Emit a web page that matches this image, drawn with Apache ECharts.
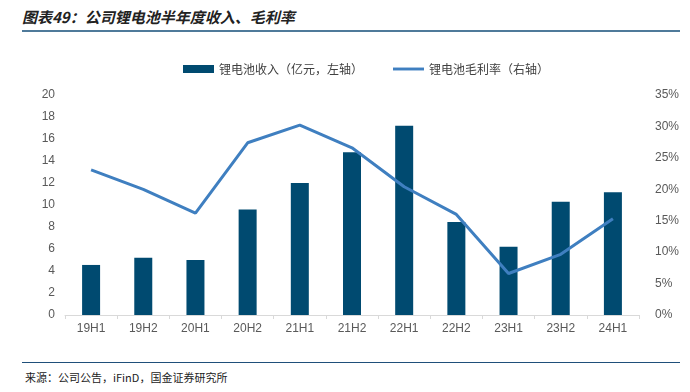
<!DOCTYPE html>
<html>
<head>
<meta charset="utf-8">
<script src="https://cdn.jsdelivr.net/npm/echarts@6/dist/echarts.min.js"></script>
<style>
  html, body { margin: 0; padding: 0; background: #fff; }
  #wrap { position: relative; width: 690px; height: 392px; font-family: "Noto Sans CJK SC", sans-serif; }
  #title { position: absolute; left: 22px; top: 6px; font-size: 15px; font-weight: bold; font-style: italic; color: #222; }
  #topline { position: absolute; left: 22px; right: 10px; top: 30px; height: 2px; background: #4f7a9a; }
  #botline { position: absolute; left: 22px; right: 10px; top: 362px; height: 1px; background: #1f4f7a; }
  #source { position: absolute; left: 25px; top: 369px; font-size: 11px; color: #222; }
  #chart { position: absolute; left: 0; top: 40px; width: 690px; height: 315px; }
</style>
</head>
<body>
<div id="wrap">
  <div id="title">图表49：公司锂电池半年度收入、毛利率</div>
  <div id="topline"></div>
  <div id="chart"></div>
  <div id="botline"></div>
  <div id="source">来源：公司公告，iFinD，国金证券研究所</div>
</div>
<script>
// 半年度
const categories = ['19H1', '19H2', '20H1', '20H2', '21H1', '21H2', '22H1', '22H2', '23H1', '23H2', '24H1'];
// 锂电池收入（亿元）
const revenue = [4.55, 5.2, 5.0, 9.6, 12.0, 14.8, 17.2, 8.45, 6.2, 10.3, 11.15];
// 锂电池毛利率（%）
const grossMargin = [23.1, 20.0, 16.2, 27.4, 30.2, 26.6, 20.4, 16.0, 6.6, 9.65, 15.3];
const leftTicks = { min: 0, max: 20, interval: 2 };
const rightTicks = { min: 0, max: 35, interval: 5 };

const myChart = echarts.init(document.getElementById('chart'));
const labelStyle = { color: '#595959', fontSize: 12, fontFamily: 'Liberation Sans, Arial, sans-serif' };

const options = {
  animation: false,
  legend: {
    top: 18,
    left: 178,
    itemGap: 30,
    itemWidth: 31,
    itemHeight: 8,
    textStyle: { color: '#404040', fontSize: 12, fontFamily: 'Noto Sans CJK SC', padding: [0, 0, 0, 0] },
    data: [
      { name: '锂电池收入（亿元，左轴）', icon: 'rect' },
      { name: '锂电池毛利率（右轴）', icon: 'path://M0,0 L32,0 L32,3 L0,3 Z' }
    ]
  },
  grid: { left: 65, right: 51, top: 55, bottom: 40 },
  xAxis: {
    type: 'category',
    data: categories,
    axisLine: { lineStyle: { color: '#d9d9d9' } },
    axisTick: { show: true, lineStyle: { color: '#d9d9d9' }, length: 4 },
    axisLabel: Object.assign({ margin: 8 }, labelStyle)
  },
  yAxis: [
    {
      type: 'value',
      min: leftTicks.min, max: leftTicks.max, interval: leftTicks.interval,
      splitLine: { show: false },
      axisLine: { show: false },
      axisTick: { show: false },
      axisLabel: Object.assign({ margin: 10 }, labelStyle)
    },
    {
      type: 'value',
      min: rightTicks.min, max: rightTicks.max, interval: rightTicks.interval,
      splitLine: { show: false },
      axisLine: { show: false },
      axisTick: { show: false },
      axisLabel: Object.assign({ margin: 16, formatter: '{value}%' }, labelStyle)
    }
  ],
  series: [
    {
      name: '锂电池收入（亿元，左轴）',
      type: 'bar',
      data: revenue,
      barWidth: 18,
      itemStyle: { color: '#004a70' }
    },
    {
      name: '锂电池毛利率（右轴）',
      type: 'line',
      yAxisIndex: 1,
      data: grossMargin,
      symbol: 'none',
      lineStyle: { color: '#3f7fc0', width: 3 },
      itemStyle: { color: '#3f7fc0' }
    }
  ]
};

myChart.setOption(options);
</script>
</body>
</html>
